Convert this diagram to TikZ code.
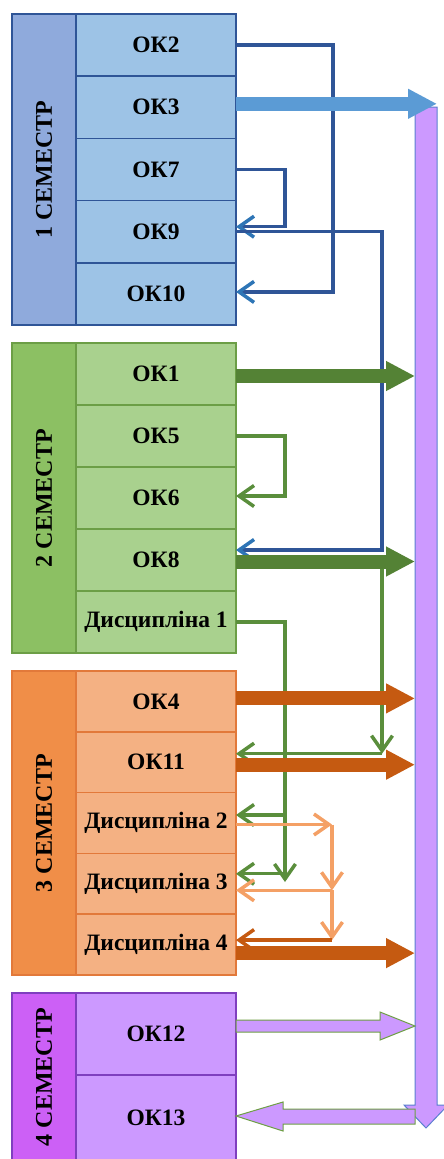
\documentclass[tikz,border=0pt]{standalone}
\usepackage{fontspec}
\setmainfont{Liberation Serif}
\usetikzlibrary{positioning,arrows.meta}

\definecolor{blueSem}{HTML}{8FAADC}
\definecolor{blueItem}{HTML}{9DC3E6}
\definecolor{blueLine}{HTML}{2F5597}
\definecolor{greenSem}{HTML}{8CC063}
\definecolor{greenItem}{HTML}{A9D18E}
\definecolor{greenLine}{HTML}{6C9E46}
\definecolor{orangeSem}{HTML}{F08E48}
\definecolor{orangeItem}{HTML}{F4B183}
\definecolor{orangeLine}{HTML}{E2793A}
\definecolor{violetSem}{HTML}{CC60F6}
\definecolor{violetItem}{HTML}{CC99FF}
\definecolor{violetLine}{HTML}{7F3FBF}
\definecolor{tipBlue}{HTML}{2E75B6}
\definecolor{linkGreen}{HTML}{5A8E3C}
\definecolor{linkOrange}{HTML}{F4A065}
\definecolor{fatBlue}{HTML}{5B9BD5}
\definecolor{fatGreen}{HTML}{548235}
\definecolor{fatOrange}{HTML}{C55A11}
\definecolor{barBlue}{HTML}{5B7FD0}
\definecolor{hollowGreen}{HTML}{6E9F45}

\tikzset{
  sem/.style={draw, line width=1.5pt, minimum width=64pt, inner sep=0pt, outer sep=0pt,
    anchor=north west, font=\bfseries\fontsize{24}{28}\selectfont},
  ok/.style={draw, line width=1.5pt, minimum width=160pt, inner sep=0pt, outer sep=0pt,
    font=\bfseries\fontsize{23.5}{27}\selectfont},
  okA/.style={ok, fill=blueItem, draw=blueLine, minimum height=62.2pt},
  okB/.style={ok, fill=greenItem, draw=greenLine, minimum height=62pt},
  okC/.style={ok, fill=orangeItem, draw=orangeLine, minimum height=60.8pt},
  okD/.style={ok, fill=violetItem, draw=violetLine},
  barb/.style={-{Straight Barb[length=15pt,width=21pt,line width=3.5pt,#1]}},
  bluelink/.style={line width=3.3pt, draw=blueLine, barb={color=tipBlue}},
  greenlink/.style={line width=3.3pt, draw=linkGreen, barb={}},
  orangelink/.style={line width=3.3pt, draw=linkOrange, barb={}},
  fat/.style={line width=14pt, -{Triangle[length=29pt,width=28pt]}},
  hollow/.style={fill=violetItem, draw=hollowGreen, line width=1pt},
}

\begin{document}
\begin{tikzpicture}[x=1pt,y=-1pt]
\useasboundingbox (0,0) rectangle (444,1159);

% 1 semester
\node[sem, fill=blueSem, draw=blueLine, minimum height=311pt] (s1) at (12,14) {\rotatebox{90}{1 СЕМЕСТР}};
\node[okA, anchor=north west] (ok2) at (s1.north east) {ОК2};
\node[okA, below=0pt of ok2] (ok3) {ОК3};
\node[okA, below=0pt of ok3] (ok7) {ОК7};
\node[okA, below=0pt of ok7] (ok9) {ОК9};
\node[okA, below=0pt of ok9] (ok10) {ОК10};

% 2 semester
\node[sem, fill=greenSem, draw=greenLine, minimum height=310pt] (s2) at (12,343) {\rotatebox{90}{2 СЕМЕСТР}};
\node[okB, anchor=north west] (ok1) at (s2.north east) {ОК1};
\node[okB, below=0pt of ok1] (ok5) {ОК5};
\node[okB, below=0pt of ok5] (ok6) {ОК6};
\node[okB, below=0pt of ok6] (ok8) {ОК8};
\node[okB, below=0pt of ok8] (d1) {Дисципліна 1};

% 3 semester
\node[sem, fill=orangeSem, draw=orangeLine, minimum height=304pt] (s3) at (12,671) {\rotatebox{90}{3 СЕМЕСТР}};
\node[okC, anchor=north west] (ok4) at (s3.north east) {ОК4};
\node[okC, below=0pt of ok4] (ok11) {ОК11};
\node[okC, below=0pt of ok11] (d2) {Дисципліна 2};
\node[okC, below=0pt of d2] (d3) {Дисципліна 3};
\node[okC, below=0pt of d3] (d4) {Дисципліна 4};

% 4 semester
\node[sem, fill=violetSem, draw=violetLine, minimum height=168pt] (s4) at (12,993) {\rotatebox{90}{4 СЕМЕСТР}};
\node[okD, minimum height=82pt, anchor=north west] (ok12) at (s4.north east) {ОК12};
\node[okD, minimum height=86pt, below=0pt of ok12] (ok13) {ОК13};

% the long arrow
\node[minimum width=22pt, minimum height=998pt, inner sep=0pt, outer sep=0pt, anchor=north] (bar) at (426,107) {};
\filldraw[fill=violetItem, draw=barBlue, line width=1pt] (bar.north west) -- (bar.south west) -- ++(-11,0)
  -- ++(22,23) -- ++(22,-23) -- ++(-11,0) -- (bar.north east) -- cycle;

% ports
\coordinate (ok3out) at ([yshift=3.5pt]ok3.east);
\coordinate (ok9in) at ([yshift=5pt]ok9.east);
\coordinate (ok10in) at ([yshift=2pt]ok10.east);
\coordinate (ok1out) at ([yshift=-2pt]ok1.east);
\coordinate (ok6in) at ([yshift=2pt]ok6.east);
\coordinate (ok8in) at ([yshift=10pt]ok8.east);
\coordinate (ok8out) at ([yshift=-1.5pt]ok8.east);
\coordinate (ok4out) at ([yshift=3pt]ok4.east);
\coordinate (ok11in) at ([yshift=8.5pt]ok11.east);
\coordinate (ok11out) at ([yshift=-2.5pt]ok11.east);
\coordinate (d2in) at ([yshift=8pt]d2.east);
\coordinate (d2out) at ([yshift=-1.5pt]d2.east);
\coordinate (d3in) at ([yshift=10pt]d3.east);
\coordinate (d3or) at ([yshift=-6.5pt]d3.east);
\coordinate (d4in) at ([yshift=4.5pt]d4.east);
\coordinate (d4out) at ([yshift=-8.5pt]d4.east);
\coordinate (ok12out) at ([yshift=8pt]ok12.east);
\coordinate (ok13in) at ([yshift=2pt]ok13.east);

% thin links
\draw[bluelink] (ok2.east) -- ++(97,0) |- (ok10in);
\draw[bluelink] (ok7.east) -- ++(49,0) |- (ok9in);
\draw[bluelink] (ok9.east) -- ++(146,0) |- (ok8in);
\draw[greenlink] (ok5.east) -- ++(49,0) |- (ok6in);
\draw[greenlink] (ok8out) ++(146,0) coordinate (k8) -- (k8 |- ok11in);
\draw[greenlink] (k8 |- ok11in) -- (ok11in);
\draw[greenlink] (d1.east) -- ++(49,0) coordinate (k1) -- ++(0,260);
\draw[greenlink] (k1 |- d2in) -- (d2in);
\draw[greenlink] (k1 |- d3in) -- (d3in);
\draw[orangelink] (d2out) -- ++(96,0) coordinate (k2);
\draw[orangelink] (k2) -- (k2 |- d3or);
\draw[orangelink] (k2 |- d3or) -- (d3or);
\draw[orangelink] (k2 |- d3or) -- (k2 |- d4in);
\draw[orangelink, draw=fatOrange] (k2 |- d4in) -- (d4in);

% fat arrows
\draw[fat, fatBlue] (ok3out) -- (ok3out -| bar.north east);
\draw[fat, fatGreen] (ok1out) -- (ok1out -| bar.west);
\draw[fat, fatGreen] (ok8out) -- (ok8out -| bar.west);
\draw[fat, fatOrange] (ok4out) -- (ok4out -| bar.west);
\draw[fat, fatOrange] (ok11out) -- (ok11out -| bar.west);
\draw[fat, fatOrange] (d4out) -- (d4out -| bar.west);
\filldraw[hollow] (ok12out) ++(0,-6) -- ++(144,0) -- ++(0,-8) -- (ok12out -| bar.west)
  -- ++(-35,14) -- ++(0,-8) -- ++(-144,0) -- cycle;
\filldraw[hollow] (ok13in) -- ++(47,-14) -- ++(0,7) -- ++(132,0) -- ++(0,15)
  -- ++(-132,0) -- ++(0,7) -- cycle;
\end{tikzpicture}
\end{document}
